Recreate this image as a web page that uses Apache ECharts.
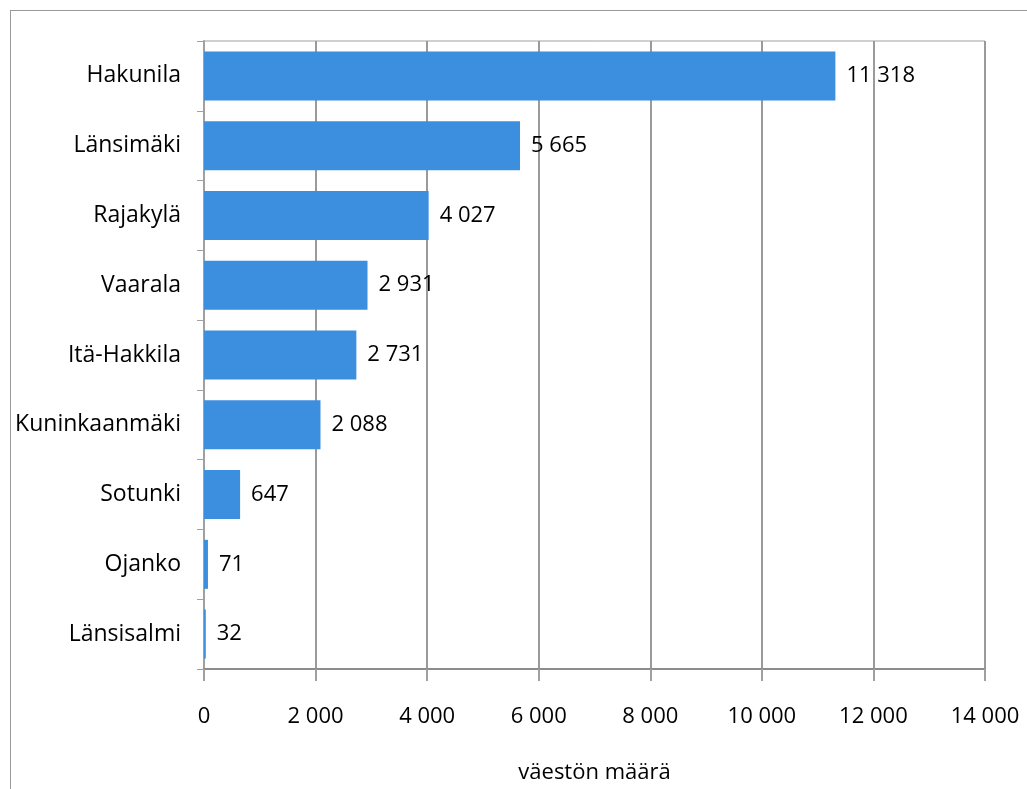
<!DOCTYPE html>
<html><head><meta charset="utf-8">
<script src="https://cdn.jsdelivr.net/npm/echarts@6/dist/echarts.min.js"></script>
<style>html,body{margin:0;padding:0;background:#fff;overflow:hidden;width:1027px;height:789px}#frame{position:absolute;left:10px;top:10px;width:1030px;height:800px;border:1px solid #9a9a9a;box-sizing:border-box}#c{position:absolute;left:0;top:0;width:1027px;height:789px}</style>
</head><body><div id="frame"></div><div id="c"></div>
<script>
const categories = ["Hakunila","Länsimäki","Rajakylä","Vaarala","Itä-Hakkila","Kuninkaanmäki","Sotunki","Ojanko","Länsisalmi"];
const values = [11318,5665,4027,2931,2731,2088,647,71,32];
const xTicks = [0,2000,4000,6000,8000,10000,12000,14000];
const axisTitle = "väestön määrä";
const fmt = v => String(v).replace(/\B(?=(\d{3})+(?!\d))/g, " ");
const FONT = "'Open Sans',sans-serif";
const chart = echarts.init(document.getElementById('c'));
chart.setOption({
  animation:false,
  textStyle:{fontFamily:FONT},
  grid:{left:204,top:41,width:781,height:632,show:true,borderColor:'#a0a0a0',borderWidth:1,containLabel:false},
  xAxis:{type:'value',min:xTicks[0],max:xTicks[xTicks.length-1],interval:2000,
    name:axisTitle,nameLocation:'middle',nameGap:93,nameTextStyle:{fontSize:22,color:'#000',fontFamily:FONT},
    axisLine:{show:true,lineStyle:{color:'#8c8c8c',width:2}},
    axisTick:{show:true,length:12,lineStyle:{color:'#a0a0a0',width:2}},
    axisLabel:{fontSize:22,color:'#000',margin:37,formatter:fmt,fontFamily:FONT},
    splitLine:{show:true,lineStyle:{color:'#9a9a9a',width:2}}},
  yAxis:{type:'category',inverse:true,data:categories,
    axisLine:{show:true,lineStyle:{color:'#a0a0a0',width:2}},
    axisTick:{show:true,length:7,alignWithLabel:false,lineStyle:{color:'#a0a0a0',width:1}},
    axisLabel:{fontSize:23,color:'#000',margin:23,fontFamily:FONT}},
  series:[{type:'bar',data:values,barWidth:49,itemStyle:{color:'#3c8ede'},
    label:{show:true,position:'right',distance:11,fontSize:22,color:'#000',fontFamily:FONT,formatter:p=>fmt(p.value)}}]
});
</script></body></html>
